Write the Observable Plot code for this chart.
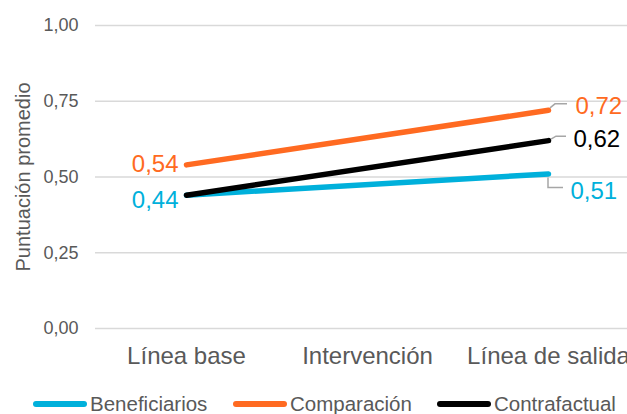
<!DOCTYPE html>
<html><head><meta charset="utf-8">
<script src="https://cdn.jsdelivr.net/npm/d3@7"></script>
<script src="https://cdn.jsdelivr.net/npm/@observablehq/plot@0.6"></script>
<style>
html,body{margin:0;padding:0;background:#fff;overflow:hidden;width:627px;height:414px;}
#chart{position:relative;width:627px;height:414px;font-family:"Liberation Sans",Arial,sans-serif;}
.legend{position:absolute;top:394px;left:0;width:627px;height:20px;}
.item{position:absolute;top:0;display:flex;align-items:center;height:20px;line-height:20px;font-size:20.5px;color:#595959;white-space:nowrap;}
.sw{width:54px;height:6px;border-radius:3px;margin-right:3px;}
</style>
</head><body><div id="chart"></div>
<script>
const categories = ["Línea base", "Intervención", "Línea de salida"];
const series = ["Beneficiarios", "Comparación", "Contrafactual"];
const colors = ["#00B0DB", "#FF6A21", "#000000"];
const baseValues = [0.44, 0.54, 0.44];
const exitValues = [0.51, 0.72, 0.62];
const baseLabelShown = [true, true, false];
const yTicks = [0, 0.25, 0.5, 0.75, 1];
const yTickLabels = ["0,00", "0,25", "0,50", "0,75", "1,00"];
const yTitle = "Puntuación promedio";

const fmt = v => v.toFixed(2).replace(".", ",");
const data = series.flatMap((s, i) => [
  {series: s, cat: categories[0], value: baseValues[i]},
  {series: s, cat: categories[2], value: exitValues[i]}
]);
const baseLabels = series.map((s, i) => ({series: s, cat: categories[0], value: baseValues[i], i})).filter(d => baseLabelShown[d.i]);
const exitLabels = series.map((s, i) => ({series: s, cat: categories[2], value: exitValues[i], i}));

// pixel offsets for labels (style)
const baseDy = [-1, -7, 0];
const exitDx = [22, 27, 25];
const exitDy = [11, -10, -8];
// leader shapes relative to point: [start, elbow, end]
const leaders = [
  [[0, 4], [0, 14], [15, 14]],
  [[2, -2], [7, -6], [19, -6]],
  [[3, -1], [8, -4], [18, -4]]
];

const W = 627, H = 388;
const plot = Plot.plot({
  width: W, height: H,
  marginLeft: 95, marginRight: 0, marginTop: 25, marginBottom: 60,
  style: {fontFamily: '"Liberation Sans", Arial, sans-serif', background: "#fff", overflow: "visible"},
  x: {type: "point", domain: categories, range: [185, 548], padding: 0},
  y: {domain: [0, 1]},
  color: {domain: series, range: colors},
  marks: [
    Plot.gridY(yTicks, {stroke: "#D9D9D9", strokeOpacity: 1, strokeWidth: 1.5}),
    Plot.axisY(yTicks, {tickSize: 0, tickPadding: 17, fontSize: 18, fill: "#595959", label: null,
      tickFormat: d => yTickLabels[yTicks.indexOf(d)]}),
    Plot.axisX(categories, {tickSize: 0, tickPadding: 18, fontSize: 24, fill: "#595959", label: null}),
    Plot.text([yTitle], {frameAnchor: "left", rotate: -90, dx: -72, fontSize: 20, fill: "#595959", textAnchor: "middle"}),
    Plot.line(data, {x: "cat", y: "value", z: "series", stroke: "series", strokeWidth: 5.5, strokeLinecap: "round", strokeLinejoin: "round"}),
    (index, scales) => {
      const g = d3.create("svg:g");
      exitLabels.forEach(d => {
        const px = scales.x(d.cat), py = scales.y(d.value);
        const pts = leaders[d.i].map(([dx, dy]) => [px + dx, py + dy]);
        g.append("path").attr("d", d3.line()(pts)).attr("fill", "none").attr("stroke", "#A6A6A6").attr("stroke-width", 1.5);
      });
      return g.node();
    },
    Plot.text(baseLabels, {x: "cat", y: "value", text: d => fmt(d.value), fill: "series", textAnchor: "end", dx: -8, fontSize: 24}),
    Plot.text(exitLabels, {x: "cat", y: "value", text: d => fmt(d.value), fill: "series", textAnchor: "start", fontSize: 24})
  ]
});

const chart = document.getElementById("chart");
chart.appendChild(plot);
const textGroups = plot.querySelectorAll("g[aria-label='text']");
const baseG = textGroups[textGroups.length - 2], exitG = textGroups[textGroups.length - 1];
baseG.querySelectorAll("text").forEach((t, k) => {
  t.setAttribute("dy", baseDy[baseLabels[k].i]);
  t.setAttribute("dominant-baseline", "middle");
});
exitG.querySelectorAll("text").forEach((t, k) => {
  const i = exitLabels[k].i;
  t.setAttribute("dx", exitDx[i]);
  t.setAttribute("dy", exitDy[i]);
  t.setAttribute("dominant-baseline", "middle");
});

const legend = document.createElement("div");
legend.className = "legend";
const legendX = [33, 233, 437];
series.forEach((s, i) => {
  const it = document.createElement("div");
  it.className = "item";
  it.style.left = legendX[i] + "px";
  const sw = document.createElement("div");
  sw.className = "sw";
  sw.style.background = colors[i];
  it.appendChild(sw);
  it.appendChild(document.createTextNode(s));
  legend.appendChild(it);
});
chart.appendChild(legend);
</script>
</body></html>
